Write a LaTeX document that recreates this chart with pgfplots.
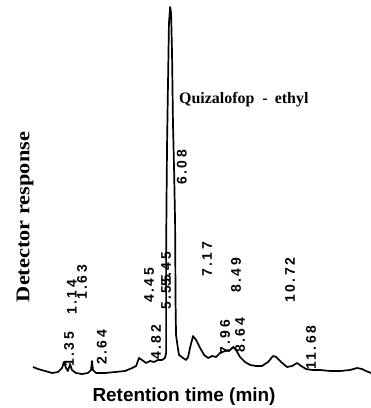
\documentclass[border=0pt]{standalone}
\usepackage{pgfplots}
\pgfplotsset{compat=1.18}
\usepackage{fontspec}
\setmainfont{Liberation Serif}
\newfontfamily\lblfont[LetterSpace=18]{Liberation Sans}
\newfontfamily\axfont{Liberation Sans}
\newfontfamily\ttlfont[FakeStretch=1.15]{Liberation Serif}
\tikzset{peak/.style={rotate=90, anchor=west, inner sep=0pt,
     font=\lblfont\bfseries\fontsize{14}{14}\selectfont}}
\begin{document}
\begin{tikzpicture}[x=1bp,y=1bp]
\useasboundingbox (0,0) rectangle (371,408);
\begin{axis}[
  at={(33bp,35bp)}, anchor=south west,
  scale only axis, width=338bp, height=366bp,
  xmin=-0.20, xmax=14.12, ymin=0, ymax=366,
  hide axis, clip=false,
]
\addplot[black, line width=1.7bp, line join=round] coordinates {
(-0.20,6) (0.01,4) (0.31,2) (0.61,0) (0.86,1) (1.03,5) (1.11,11) (1.20,5)
(1.28,2) (1.37,9) (1.45,3) (1.62,0) (1.88,-1) (2.13,0) (2.26,3) (2.30,12)
(2.34,3) (2.47,0) (2.85,0) (3.28,1) (3.70,2) (4.00,5) (4.17,7) (4.29,15)
(4.42,13) (4.59,10) (4.76,12) (4.93,11) (5.10,13) (5.27,13) (5.39,15)
(5.44,20) (5.44,120) (5.46,180) (5.48,230) (5.52,290) (5.56,350) (5.61,366)
(5.65,360) (5.69,320) (5.73,250) (5.78,200) (5.82,150) (5.84,70) (5.86,38)
(5.95,23) (5.99,18) (6.16,15) (6.28,13) (6.37,16) (6.45,25) (6.58,37)
(6.71,33) (6.88,25) (7.05,18) (7.22,15) (7.39,17) (7.56,16) (7.72,20)
(7.94,22) (8.15,23) (8.28,26) (8.40,23) (8.57,16) (8.78,11) (9.00,8)
(9.25,7) (9.50,7) (9.76,11) (9.97,17) (10.10,16) (10.31,11) (10.56,6)
(10.78,7) (10.99,10) (11.16,7) (11.37,4) (11.63,3) (11.96,3) (12.39,2)
(12.81,2) (13.23,3) (13.53,5) (13.74,4) (13.91,2) (14.12,0)
};
\node[peak] at (axis cs:1.33,6) {1.35};
\node[peak] at (axis cs:1.45,58) {1.14};
\node[peak] at (axis cs:1.88,73) {1.63};
\node[peak] at (axis cs:2.72,8) {2.64};
\node[peak] at (axis cs:4.72,70) {4.45};
\node[peak] at (axis cs:5.01,13) {4.82};
\node[peak] at (axis cs:5.44,86) {5.45};
\node[peak] at (axis cs:5.44,63) {5.55};
\node[peak] at (axis cs:6.11,188) {6.08};
\node[peak] at (axis cs:7.17,96) {7.17};
\node[peak] at (axis cs:7.94,18) {7.96};
\node[peak] at (axis cs:8.40,80) {8.49};
\node[peak] at (axis cs:8.57,20) {8.64};
\node[peak] at (axis cs:10.69,70) {10.72};
\node[peak] at (axis cs:11.58,3) {11.68};
\end{axis}
\node[anchor=west, inner sep=0pt, font=\bfseries\fontsize{16}{16}\selectfont] at (179,308) {Quizalofop\hspace{8bp}-\hspace{7bp}ethyl};
\node[rotate=90, inner sep=0pt, font=\ttlfont\bfseries\fontsize{19.5}{19.5}\selectfont] at (25,191) {Detector response};
\node[inner sep=0pt, font=\axfont\bfseries\fontsize{19}{19}\selectfont] at (184,11) {Retention time (min)};
\end{tikzpicture}
\end{document}
